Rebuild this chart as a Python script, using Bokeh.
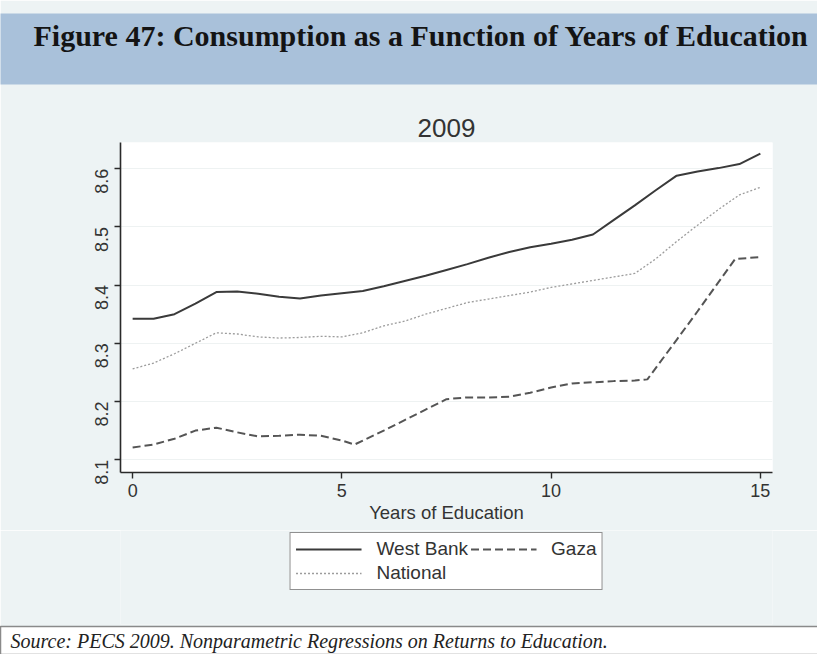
import math
from bokeh.plotting import figure
from bokeh.models import Range1d, FixedTicker, Legend, LegendItem, Title
from bokeh.layouts import column
from bokeh.embed import file_html
from bokeh.resources import INLINE

# ---------------- data ----------------
title_text = "Figure 47: Consumption as a Function of Years of Education"
chart_title = "2009"
source_text = "Source: PECS 2009. Nonparametric Regressions on Returns to Education."
x_label = "Years of Education"
series_names = ["West Bank", "Gaza", "National"]
x_ticks = [0, 5, 10, 15]
y_ticks = [8.1, 8.2, 8.3, 8.4, 8.5, 8.6]

years = [0, 0.5, 1, 1.5, 2, 2.5, 3, 3.5, 4, 4.5, 5, 5.5, 6, 6.5, 7, 7.5,
         8, 8.5, 9, 9.5, 10, 10.5, 11, 11.5, 12, 12.5, 13, 13.5, 14, 14.5, 15]
west_bank = [8.342, 8.342, 8.350, 8.368, 8.388, 8.389, 8.385, 8.380, 8.377,
             8.382, 8.386, 8.390, 8.398, 8.407, 8.416, 8.426, 8.436, 8.447,
             8.457, 8.465, 8.471, 8.478, 8.487, 8.512, 8.537, 8.563, 8.588,
             8.595, 8.601, 8.608, 8.626]
national = [8.256, 8.266, 8.282, 8.300, 8.318, 8.316, 8.311, 8.309, 8.310,
            8.312, 8.311, 8.318, 8.330, 8.338, 8.350, 8.360, 8.370, 8.376,
            8.382, 8.388, 8.396, 8.402, 8.408, 8.414, 8.420, 8.445, 8.475,
            8.503, 8.530, 8.555, 8.568]
gaza_years = [0, 0.5, 1, 1.5, 2, 2.5, 3, 3.5, 4, 4.5, 5, 5.3, 6, 6.5, 7, 7.5,
              8, 8.5, 9, 9.5, 10, 10.5, 11, 11.5, 12, 12.3, 13, 13.5, 14, 14.4, 15]
gaza = [8.121, 8.126, 8.136, 8.150, 8.155, 8.147, 8.140, 8.141, 8.143, 8.141,
        8.133, 8.126, 8.150, 8.168, 8.186, 8.204, 8.207, 8.207, 8.208, 8.215,
        8.224, 8.231, 8.233, 8.235, 8.236, 8.238, 8.306, 8.355, 8.405, 8.445, 8.448]

W = 817
H1, H2 = 530, 124
SANS = "Liberation Sans"
SERIF = "Liberation Serif"
REGION = "#EDF3F4"

series = {
    "West Bank": (years, west_bank),
    "Gaza": (gaza_years, gaza),
    "National": (years, national),
}
styles = {
    "West Bank": dict(line_color="#3a3a3a", line_width=2),
    "Gaza": dict(line_color="#555555", line_width=2, line_dash="8 4"),
    "National": dict(line_color="#9c9c9c", line_width=1.3, line_dash="2 2"),
}

# ---------------- chart ----------------
p = figure(width=W, height=H1, x_range=Range1d(-0.29, 15.29),
           y_range=Range1d(8.078, 8.645), toolbar_location=None, title=None,
           output_backend="svg", min_border_left=120, min_border_right=45,
           min_border_top=142, min_border_bottom=58)
p.background_fill_color = "white"
p.border_fill_color = REGION
p.outline_line_color = None

t_chart = Title(text=chart_title, align="center", text_font=SANS,
                text_font_style="normal", text_font_size="26px",
                text_color="#333333", standoff=2)
t_chart.padding = dict(left=0, right=0, top=26, bottom=5)
p.add_layout(t_chart, "above")

t_head = Title(text=title_text, align="left", offset=-120, text_font=SERIF,
               text_font_style="bold", text_font_size="30px", text_color="#141414",
               background_fill_color="#A9C1DA", background_fill_alpha=1.0)
t_head.padding = dict(left=33, right=300, top=5, bottom=33)
p.add_layout(t_head, "above")

for name in series_names:
    xs, ys = series[name]
    p.line(xs, ys, **styles[name])

p.xgrid.visible = False
p.ygrid.grid_line_color = "#EEF2F2"

for ax in (p.xaxis[0], p.yaxis[0]):
    ax.axis_line_color = "#2a2a2a"
    ax.axis_line_width = 1.6
    ax.major_tick_line_color = "#2a2a2a"
    ax.major_tick_line_width = 1.4
    ax.major_tick_out = 6
    ax.major_tick_in = 0
    ax.minor_tick_line_color = None
    ax.major_label_text_font = SANS
    ax.major_label_text_font_size = "18px"
    ax.major_label_text_color = "#333333"
    ax.axis_label_text_font = SANS
    ax.axis_label_text_font_style = "normal"
    ax.axis_label_text_font_size = "18.5px"
    ax.axis_label_text_color = "#333333"

p.xaxis.ticker = FixedTicker(ticks=x_ticks)
p.yaxis.ticker = FixedTicker(ticks=y_ticks)
p.yaxis.major_label_orientation = math.pi / 2
p.yaxis.major_label_standoff = 13
p.xaxis.major_label_standoff = 5
p.xaxis.axis_label = x_label
p.xaxis.axis_label_standoff = 2

# ---------------- legend + source ----------------
# The key panel carries the same three series (outside its view) so that the
# legend can show their line styles.
q = figure(width=W, height=H2, x_range=Range1d(0, 1), y_range=Range1d(0, 1),
           toolbar_location=None, title=None, output_backend="svg",
           x_axis_type=None, y_axis_type=None, min_border_left=120,
           min_border_right=45, min_border_top=0, min_border_bottom=29)
q.background_fill_color = REGION
q.border_fill_color = REGION
q.outline_line_color = None
q.grid.visible = False

key = {}
for name in series_names:
    xs, ys = series[name]
    key[name] = q.line(xs, ys, **styles[name])

legend = Legend(items=[LegendItem(label=n, renderers=[key[n]])
                       for n in ["West Bank", "National", "Gaza"]],
                ncols=2, location="top_center")
legend.label_text_font = SANS
legend.label_text_font_size = "19px"
legend.label_text_color = "#333333"
legend.glyph_width = 66
legend.glyph_height = 20
legend.label_height = 20
legend.label_standoff = 15
legend.spacing = 2
legend.padding = 5
legend.margin = 2
legend.border_line_color = "#222222"
legend.border_line_width = 1.6
legend.background_fill_color = "white"
legend.background_fill_alpha = 1
q.add_layout(legend)

t_foot = Title(text=source_text, align="left", offset=-120, text_font=SERIF,
               text_font_style="italic", text_font_size="20px", text_color="#222222",
               background_fill_color="white", background_fill_alpha=1.0,
               border_line_color="#8a8a8a", border_line_width=1.5, standoff=0)
t_foot.padding = dict(left=10, right=600, top=3, bottom=3)
q.add_layout(t_foot, "below")

layout = column(p, q, spacing=0)
open("out.html", "w").write(file_html(layout, INLINE))
